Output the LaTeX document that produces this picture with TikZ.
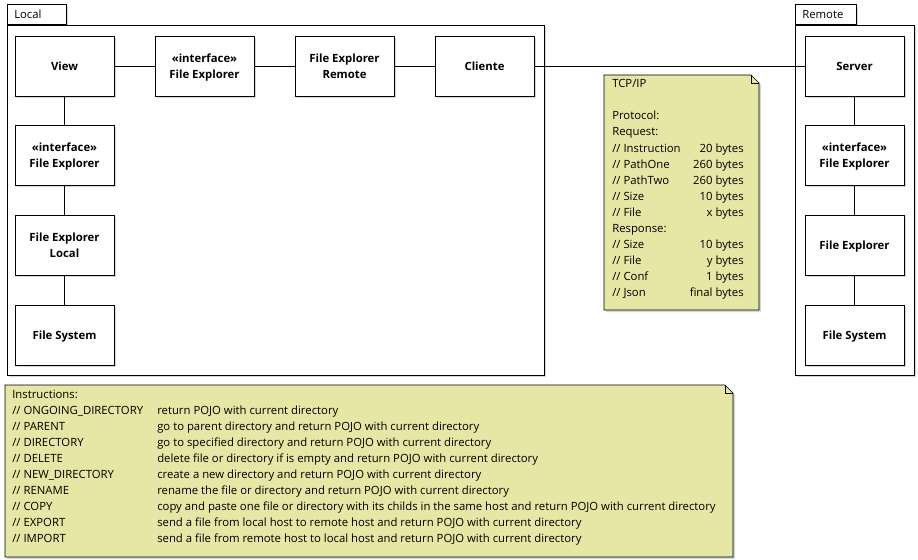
\documentclass[tikz,border=0pt]{standalone}
\usepackage{fontspec}
\setmainfont{Open Sans}
\usetikzlibrary{positioning,shadows}
\definecolor{notefill}{RGB}{230,230,165}
\definecolor{shade}{RGB}{215,215,215}

\begin{document}
\begin{tikzpicture}[x=0.75pt,y=-0.75pt]
\tikzstyle{shad}=[drop shadow={shadow xshift=1.5pt, shadow yshift=-1.5pt, fill=shade, opacity=1}]
\tikzstyle{part}=[rectangle, draw, fill=white, shad, minimum width=74.25pt, minimum height=45pt, align=center, text depth=0pt, font=\fontsize{8.5}{12}\selectfont\bfseries]
\tikzstyle{pkg}=[rectangle, draw, fill=white, shad, inner sep=0pt]
\tikzstyle{tab}=[rectangle, draw, fill=white, shad, minimum height=15pt, inner ysep=0pt, inner xsep=5.25pt, align=left, font=\fontsize{8.5}{10}\selectfont]
\tikzstyle{txt}=[anchor=base west, inner sep=0pt, font=\fontsize{8.5}{10}\selectfont]

\useasboundingbox (0,0) rectangle (918,560);

% packages
\node[tab, text width=33.75pt, anchor=south west] (localtab) at (7,25) {Local};
\node[pkg, minimum width=402.75pt, minimum height=262.5pt, anchor=north west] (local) at (7,25) {};
\node[tab, text width=35.25pt, anchor=south west] (remotetab) at (795,25) {Remote};
\node[pkg, minimum width=89.25pt, minimum height=262.5pt, anchor=north west] (remote) at (795,25) {};

% local side
\node[part] (view) at (64.5,66) {View};
\node[part] (ifx) at (204.5,66) {«interface»\\File Explorer};
\node[part] (fxremote) at (344.5,66) {File Explorer\\Remote};
\node[part] (cliente) at (484.5,66) {Cliente};
\node[part] (ifxl) at (64.5,155) {«interface»\\File Explorer};
\node[part] (fxlocal) at (64.5,245) {File Explorer\\Local};
\node[part] (fsl) at (64.5,335) {File System};

% remote side
\node[part] (server) at (854.5,66) {Server};
\node[part] (ifxr) at (854.5,155) {«interface»\\File Explorer};
\node[part] (fxr) at (854.5,245) {File Explorer};
\node[part] (fsr) at (854.5,335) {File System};

\draw (view) -- (ifx) -- (fxremote) -- (cliente) -- (server);
\draw (view) -- (ifxl) -- (fxlocal) -- (fsl);
\draw (server) -- (ifxr) -- (fxr) -- (fsr);

% protocol note
\filldraw[fill=notefill, shad] (604,75) -- (751,75) -- (759,83) -- (759,310) -- (604,310) -- cycle;
\draw (751,75) -- (751,83) -- (759,83);
\node[txt] (tcp) at (612,88) {TCP/IP};
\foreach \lbl/\val [count=\i] in {{Protocol:}/{}, {Request:}/{}, {// Instruction}/{20 bytes},
  {// PathOne}/{260 bytes}, {// PathTwo}/{260 bytes}, {// Size}/{10 bytes}, {// File}/{x bytes},
  {Response:}/{}, {// Size}/{10 bytes}, {// File}/{y bytes}, {// Conf}/{1 bytes}, {// Json}/{final bytes}}
{
  \node[txt] (pl\i) at (612,104+16*\i) {\lbl};
  \node[txt, anchor=base east] (pv\i) at (744,104+16*\i) {\val};
}

% instructions note
\filldraw[fill=notefill, shad] (5,385) -- (725,385) -- (733,393) -- (733,557) -- (5,557) -- cycle;
\draw (725,385) -- (725,393) -- (733,393);
\node[txt] (instr) at (12,398) {Instructions:};
\foreach \cmd/\desc [count=\i] in {
  ONGOING\_DIRECTORY/return POJO with current directory,
  PARENT/go to parent directory and return POJO with current directory,
  DIRECTORY/go to specified directory and return POJO with current directory,
  DELETE/delete file or directory if is empty and return POJO with current directory,
  NEW\_DIRECTORY/create a new directory and return POJO with current directory,
  RENAME/rename the file or directory and return POJO with current directory,
  COPY/copy and paste one file or directory with its childs in the same host and return POJO with current directory,
  EXPORT/send a file from local host to remote host and return POJO with current directory,
  IMPORT/send a file from remote host to local host and return POJO with current directory}
{
  \node[txt] (ic\i) at (12,398+16*\i) {// \cmd};
  \node[txt] (id\i) at (157,398+16*\i) {\desc};
}
\end{tikzpicture}
\end{document}
